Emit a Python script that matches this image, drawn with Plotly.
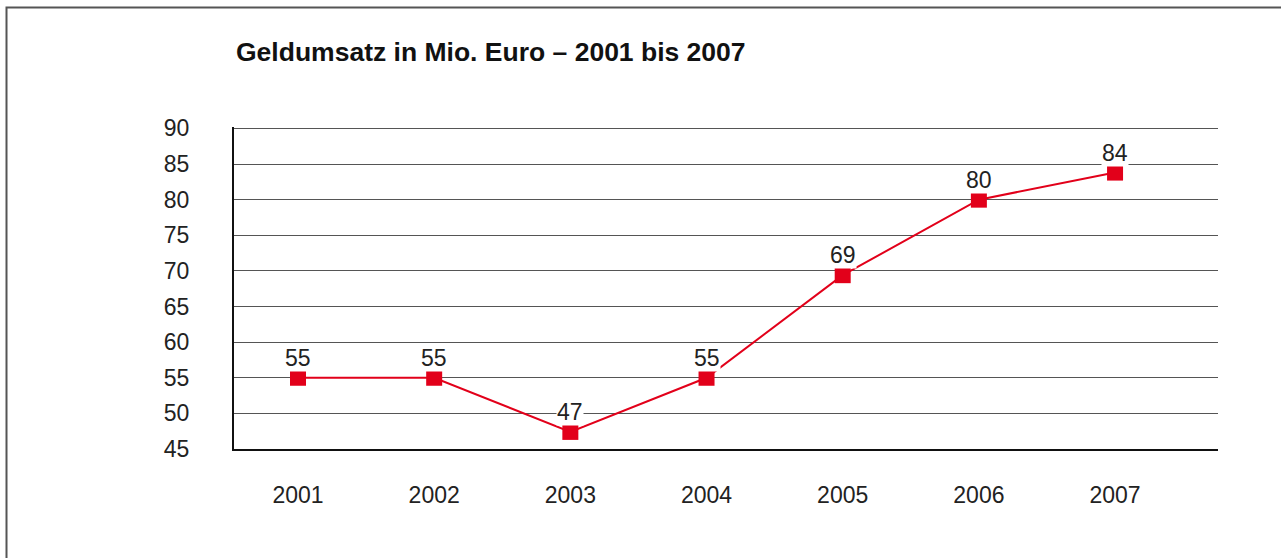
import plotly.graph_objects as go

years = [2001, 2002, 2003, 2004, 2005, 2006, 2007]
values = [55, 55, 47.4, 55, 69.4, 80, 83.8]
labels = ["55", "55", "47", "55", "69", "80", "84"]
y_ticks = [45, 50, 55, 60, 65, 70, 75, 80, 85, 90]
title_text = "Geldumsatz in Mio. Euro – 2001 bis 2007"

W, H = 1281, 558
L, R, T, B = 234, 63, 127, 109
PW, PH = W - L - R, H - T - B

def px_x(p):
    return (p - L) / PW

def px_y(p):
    return (H - B - p) / PH

red = "#e2001a"
font_fam = "Liberation Sans, Arial, Helvetica, sans-serif"

fig = go.Figure()
fig.add_trace(go.Scatter(
    x=years, y=values, mode="lines+markers",
    line=dict(color=red, width=2),
    marker=dict(symbol="square", size=16, color=red),
    hoverinfo="skip", showlegend=False,
))

for x, y, t in zip(years, values, labels):
    fig.add_annotation(x=x, y=y, text=t, showarrow=False, yanchor="bottom",
                       yshift=6, bgcolor="white", borderpad=0,
                       font=dict(family=font_fam, size=23, color="#222"))

fig.add_annotation(xref="paper", yref="paper", x=px_x(234), y=px_y(52),
                   xanchor="left", yanchor="middle", showarrow=False,
                   text="<b>" + title_text + "</b>",
                   font=dict(family=font_fam, size=26.5, color="#111"))

fig.add_shape(type="rect", xref="paper", yref="paper",
              x0=px_x(6.5), x1=px_x(1300), y0=px_y(7.5), y1=px_y(580),
              line=dict(color="#555", width=2), layer="below")

fig.update_layout(
    width=W, height=H,
    margin=dict(l=L, r=R, t=T, b=B, pad=0),
    paper_bgcolor="white", plot_bgcolor="white",
    font=dict(family=font_fam, size=23, color="#222"),
    xaxis=dict(range=[2000.53, 2007.756], tickvals=years,
               ticktext=[str(y) for y in years],
               showgrid=False, zeroline=False, showline=True,
               linecolor="#111", linewidth=2, ticks="",
               ticklabelstandoff=24, tickfont=dict(size=23, color="#222")),
    yaxis=dict(range=[45, 90.2], tickvals=y_ticks, showgrid=True,
               gridcolor="#555", gridwidth=1, zeroline=False, showline=True,
               linecolor="#111", linewidth=2, ticks="",
               ticklabelstandoff=38, tickfont=dict(size=23, color="#222")),
)

fig.write_html("out.html", config={"displayModeBar": False},
               post_script="document.body.style.margin='0';document.body.style.overflow='hidden';")
